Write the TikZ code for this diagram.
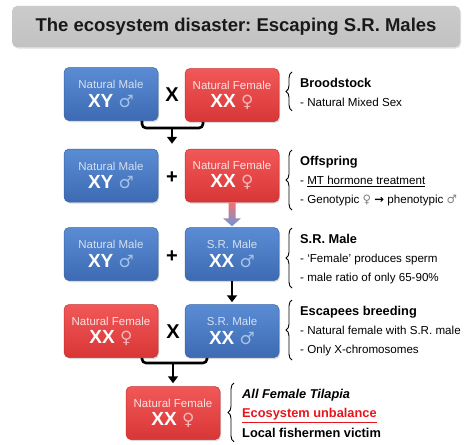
\documentclass[tikz,border=0pt]{standalone}
\usepackage{fontspec}
\setmainfont{Liberation Sans}
\newfontfamily\symfont{DejaVu Sans}
\usetikzlibrary{positioning,arrows.meta,decorations.pathreplacing,shadows,calc}
\frenchspacing

\definecolor{maletop}{HTML}{5A8CD4}
\definecolor{malebot}{HTML}{3D6BB3}
\definecolor{maleedge}{HTML}{3A64A6}
\definecolor{femtop}{HTML}{F25858}
\definecolor{fembot}{HTML}{D83636}
\definecolor{femedge}{HTML}{C83030}
\definecolor{malepale}{HTML}{D5E0F2}
\definecolor{malesym}{HTML}{A6C2E8}
\definecolor{fempale}{HTML}{FBE2E2}
\definecolor{femsym}{HTML}{F6B4B4}
\definecolor{titlegray}{HTML}{C2C2C2}
\definecolor{alertred}{HTML}{E8141B}

\newcommand{\malelabel}[2]{{\fontsize{11.5}{12}\selectfont\color{malepale}#1}\\[4pt]%
  {\fontsize{19}{20}\selectfont\bfseries #2\ {\symfont\mdseries\fontsize{17}{20}\selectfont\color{malesym}♂}}}
\newcommand{\femalelabel}[2]{{\fontsize{11.5}{12}\selectfont\color{fempale}#1}\\[4pt]%
  {\fontsize{19}{20}\selectfont\bfseries #2\ {\symfont\mdseries\fontsize{17}{20}\selectfont\color{femsym}♀}}}
\newcommand{\notehead}[1]{{\fontsize{12.8}{19}\selectfont\bfseries #1}}
\newcommand{\sym}[1]{{\symfont\color{gray}#1}}

\tikzset{
  sexbox/.style={rounded corners=5pt, minimum width=94pt, minimum height=53pt,
    align=center, inner sep=1pt, text=white, line width=0.5pt,
    drop shadow={opacity=0.3, shadow xshift=1pt, shadow yshift=-1.5pt}},
  malebox/.style={sexbox, top color=maletop, bottom color=malebot, draw=maleedge},
  femalebox/.style={sexbox, top color=femtop, bottom color=fembot, draw=femedge},
  titlebox/.style={rounded corners=5pt, minimum width=448pt, minimum height=41pt,
    top color=titlegray!85, bottom color=titlegray, text=black!90,
    font=\fontsize{18.5}{20}\selectfont\bfseries,
    drop shadow={opacity=0.25, shadow xshift=1pt, shadow yshift=-1.5pt}},
  cross/.style={font=\fontsize{20}{20}\selectfont\bfseries},
  fork/.style={line width=2.6pt, rounded corners=4pt},
  down/.style={line width=2.6pt, -{Triangle[width=10pt,length=7pt]}},
  note/.style={anchor=north west, align=left, inner sep=0pt,
    font=\fontsize{11.6}{19}\selectfont},
  curly/.style={decorate, decoration={brace, amplitude=6pt}, line width=0.9pt},
}

\begin{document}
\begin{tikzpicture}[x=1pt, y=-1pt]
  \useasboundingbox (0,0) rectangle (470,444);
  \node[titlebox] (title) at (236,26.5) {The ecosystem disaster: Escaping S.R. Males};

  % broodstock
  \node[malebox] (m1) at (111,94) {\malelabel{Natural Male}{XY}};
  \node[femalebox] (f1) at (232,95) {\femalelabel{Natural Female}{XX}};
  \node[cross] (x1) at (172,95) {X};
  \coordinate (j1) at (172,128);
  \draw[fork] ([xshift=31pt]m1.south) |- (j1) -| ([xshift=-29pt]f1.south);

  % offspring
  \node[malebox] (m2) at (111,175.5) {\malelabel{Natural Male}{XY}};
  \node[femalebox] (f2) at (232,175.5) {\femalelabel{Natural Female}{XX}};
  \node[cross] (p2) at (172,178) {+};
  \draw[down] (j1) -- ([yshift=5pt]m2.north -| j1);

  % sex reversed male
  \node[malebox] (m3) at (111,254) {\malelabel{Natural Male}{XY}};
  \node[malebox] (s3) at (232,254) {\malelabel{S.R. Male}{XX}};
  \node[cross] (p3) at (172,257) {+};
  \shade[top color=femtop!85, bottom color=maletop!90]
    ($(f2.south)+(-3.5,0)$) -- ($(f2.south)+(3.5,0)$) -- ($(s3.north)+(3.5,-9)$)
    -- ($(s3.north)+(9,-9)$) -- ($(s3.north)+(0,-1)$) -- ($(s3.north)+(-9,-9)$)
    -- ($(s3.north)+(-3.5,-9)$) -- cycle;

  % escapees
  \node[femalebox] (f4) at (111,331) {\femalelabel{Natural Female}{XX}};
  \node[malebox] (s4) at (232,331) {\malelabel{S.R. Male}{XX}};
  \node[cross] (x4) at (173,332) {X};
  \draw[down] (s3.south) -- ([yshift=2pt]s4.north);
  \coordinate (j4) at (173,363);
  \draw[fork] ([xshift=31pt]f4.south) |- (j4) -| ([xshift=-25pt]s4.south);

  % result
  \node[femalebox] (f5) at (173,413) {\femalelabel{Natural Female}{XX}};
  \draw[down] (j4) -- ([yshift=3pt]f5.north);

  % notes
  \node[note] (n1) at (300,78) {\notehead{Broodstock}\\- Natural Mixed Sex};
  \node[note] (n2) at (300,156) {\notehead{Offspring}\\- \underline{MT hormone treatment}\\
    - Genotypic \sym{♀} {\symfont\bfseries →} phenotypic \sym{♂}};
  \node[note] (n3) at (300,234) {\notehead{S.R. Male}\\- ‘Female’ produces sperm\\- male ratio of only 65-90\%};
  \node[note] (n4) at (300,306) {\notehead{Escapees breeding}\\- Natural female with S.R. male\\- Only X-chromosomes};
  \node[note, font=\fontsize{12.8}{19.5}\selectfont\bfseries] (n5) at (242,389)
    {\itshape All Female Tilapia\\{\color{alertred}\underline{Ecosystem unbalance}}\\Local fishermen victim};
  \foreach \n in {n1,n2,n3,n4,n5}
    \draw[curly] ([xshift=-8pt,yshift=-4pt]\n.south west) -- ([xshift=-8pt,yshift=6pt]\n.north west);
\end{tikzpicture}
\end{document}
